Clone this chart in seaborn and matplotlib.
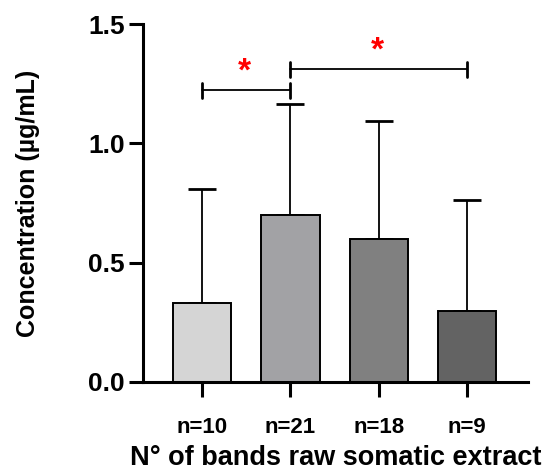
import matplotlib
matplotlib.use("Agg")
import matplotlib.pyplot as plt
import seaborn as sns
import pandas as pd
import numpy as np

categories = ["n=10", "n=21", "n=18", "n=9"]
means = [0.332, 0.698, 0.598, 0.299]
sd_upper = [0.478, 0.465, 0.497, 0.465]
colors = ["#d5d5d5", "#a2a1a6", "#808080", "#636363"]
yticks = [0.0, 0.5, 1.0, 1.5]
# significance brackets: (i, j, height, star height)
brackets = [(0, 1, 1.222, 1.30), (1, 3, 1.31, 1.385)]

sns.set_theme(style="ticks")
plt.rcParams["font.family"] = ["Liberation Sans", "DejaVu Sans"]
plt.rcParams["font.weight"] = "bold"
for k in ["text.color", "axes.labelcolor", "xtick.color", "ytick.color",
          "xtick.labelcolor", "ytick.labelcolor"]:
    plt.rcParams[k] = "black"

df = pd.DataFrame({"group": categories, "value": means})

fig = plt.figure(figsize=(5.5, 4.72), dpi=100)
ax = fig.add_axes([0.26, 0.191, 0.70, 0.758])

sns.barplot(data=df, x="group", y="value", hue="group", palette=colors,
            order=categories, errorbar=None, width=0.66, legend=False,
            edgecolor="black", linewidth=1.4, ax=ax, zorder=2)

x = np.arange(len(categories))
ax.errorbar(x, means, yerr=[np.zeros(len(means)), sd_upper], fmt="none",
            ecolor="black", elinewidth=1.3, capsize=10, capthick=2, zorder=1)

for i, j, h, sh in brackets:
    ax.plot([i, j], [h, h], color="black", lw=1.3)
    ax.plot([i, i], [h - 0.032, h + 0.032], color="black", lw=2)
    ax.plot([j, j], [h - 0.032, h + 0.032], color="black", lw=2)
    ax.text((i + j) / 2 - 0.02, sh, "*", color="red", ha="center", va="center",
            fontsize=24, fontweight="bold")

ax.set_ylim(0, 1.5)
ax.set_xlim(-0.67, 3.69)
ax.set_yticks(yticks)
ax.set_yticklabels([f"{t:.1f}" for t in yticks], fontsize=19, fontweight="bold",
                   color="black")
ax.set_xticks(x)
ax.set_xticklabels(categories, fontsize=16, fontweight="bold", color="black")
ax.tick_params(axis="y", length=10, width=2.2, pad=3, color="black")
ax.tick_params(axis="x", length=11, width=2.2, pad=14, color="black")
for s in ["top", "right"]:
    ax.spines[s].set_visible(False)
for s in ["left", "bottom"]:
    ax.spines[s].set_linewidth(2.2)
    ax.spines[s].set_color("black")

ax.set_xlabel("N° of bands raw somatic extract", fontsize=19.5, fontweight="bold",
              labelpad=5, color="black")
ax.set_ylabel("Concentration (µg/mL)", fontsize=18, fontweight="bold",
              labelpad=35, color="black")

fig.savefig("out.png", dpi=100)
